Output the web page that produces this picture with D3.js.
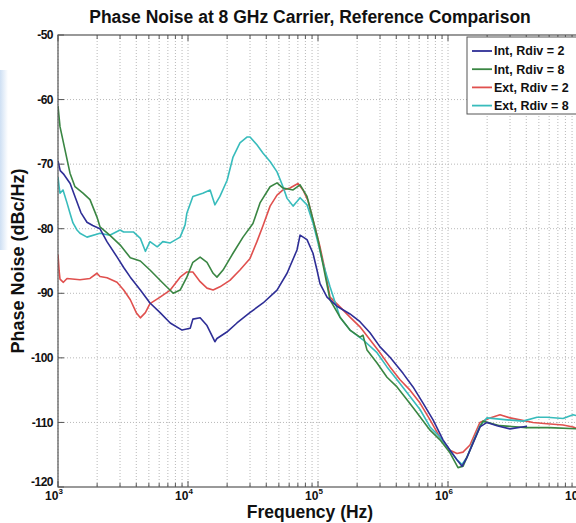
<!DOCTYPE html>
<html>
<head>
<meta charset="utf-8">
<script src="https://cdn.jsdelivr.net/npm/d3@7"></script>
<style>
  html, body { margin: 0; padding: 0; background: #fff; }
  svg { display: block; font-family: "Liberation Sans", Arial, sans-serif; }
</style>
</head>
<body>
<svg id="chart" width="576" height="523"></svg>
<script>
// ---------------- DATA ----------------
const titleText = "Phase Noise at 8 GHz Carrier, Reference Comparison";
const xLabel = "Frequency (Hz)";
const yLabel = "Phase Noise (dBc/Hz)";
const seriesNames = ["Int, Rdiv = 2", "Int, Rdiv = 8", "Ext, Rdiv = 2", "Ext, Rdiv = 8"];
const seriesColors = ["#2e2e96", "#3a8643", "#e0504e", "#38bcbc"];
const xTickExponents = [3, 4, 5, 6, 7];
const yTicks = [-120, -110, -100, -90, -80, -70, -60, -50];

// Int, Rdiv = 2  [frequency Hz, dBc/Hz]
const intR2 = [[1000,-69.5],[1040,-71],[1100,-71.5],[1240,-73],[1350,-75],[1500,-77.5],[1670,-79],[1850,-79.5],[2100,-80],[2380,-82],[2850,-84.4],[3200,-86],[3600,-87.5],[4300,-89.5],[5100,-91.5],[6100,-93],[7300,-94.6],[9000,-95.7],[10400,-95.4],[10900,-94],[12400,-93.8],[14000,-95],[16100,-97.5],[16700,-97],[19900,-96],[23800,-94.6],[29900,-93],[37800,-91.5],[48400,-89.5],[57800,-86.9],[68900,-83.3],[72800,-81],[82300,-81.7],[91500,-83.8],[98200,-86.4],[103600,-88.5],[117300,-90.6],[140000,-92],[176200,-93.2],[210300,-94.4],[251200,-96.1],[300000,-98.3],[358100,-99.9],[450800,-102.4],[538300,-104.5],[642700,-107],[767400,-109.6],[915400,-112.7],[1036000,-114.3],[1173000,-115.8],[1281000,-116.8],[1400000,-115.4],[1557000,-113.2],[1762000,-110.7],[1995000,-110],[2383000,-110.5],[3000000,-111],[4054000,-110.6]];
// Int, Rdiv = 8
const intR8 = [[1000,-61],[1036,-64.2],[1132,-67.8],[1237,-71.4],[1351,-73.5],[1557,-74.5],[1762,-75.5],[1995,-78.2],[2103,-79.7],[2500,-81],[3000,-82.5],[3600,-84.5],[4300,-85],[5100,-86.4],[6400,-88.4],[7700,-90],[8700,-89.5],[9800,-87.5],[10900,-85.2],[12400,-84.4],[14000,-85.2],[15600,-86.9],[16700,-87.5],[18600,-86.4],[22200,-83.8],[26500,-81.3],[31600,-79.2],[35800,-76],[42800,-73.5],[48400,-72.9],[53800,-73.7],[64300,-74],[72800,-73.2],[82300,-75],[91500,-78.6],[100000,-81.7],[109200,-85.5],[123700,-91],[147600,-93.7],[176200,-95.7],[210300,-96.8],[221800,-96.5],[238300,-98.8],[284500,-100.8],[339400,-103],[405400,-104.5],[483900,-106.5],[577700,-108.5],[727800,-111.2],[867500,-112.7],[1036000,-114.7],[1194000,-117],[1304000,-116.8],[1476000,-114.3],[1762000,-110.7],[1858000,-109.8],[2500000,-110.5],[4000000,-110.8],[6000000,-110.8],[10000000,-111]];
// Ext, Rdiv = 2
const extR2 = [[1000,-84],[1020,-86.5],[1036,-87.8],[1100,-88.3],[1173,-87.7],[1476,-87.9],[1762,-87.7],[1995,-86.9],[2103,-87.4],[2383,-87.6],[2845,-88.3],[3200,-89.5],[3600,-91],[4000,-93],[4300,-93.8],[4700,-93],[5100,-91.6],[6100,-90.6],[7300,-89.5],[8700,-87.5],[9800,-86.7],[10900,-86.7],[12400,-88.2],[14000,-89.2],[15600,-89.5],[17600,-89],[21000,-88],[25100,-86.4],[30000,-84.6],[33900,-82],[37800,-79.5],[42800,-76.5],[48400,-74.8],[53800,-74],[60900,-73.7],[70200,-73],[76700,-74],[83700,-75.6],[91500,-78.6],[103600,-82.8],[113200,-86.4],[123700,-90.6],[147600,-92.1],[176200,-93.7],[210300,-95.2],[251200,-97.2],[300000,-99.2],[358100,-101.4],[427500,-103.4],[510400,-105],[609200,-107],[727800,-109.6],[867500,-112.3],[1036000,-114.3],[1173000,-114.8],[1304000,-114.6],[1476000,-113.5],[1762000,-110],[2103000,-109.3],[2512000,-108.8],[3000000,-109.3],[3581000,-109.6],[4508000,-110],[5777000,-110.2],[7674000,-110.4],[9154000,-110.7],[10000000,-111]];
// Ext, Rdiv = 8
const extR8 = [[1000,-72],[1020,-73.5],[1036,-74.5],[1093,-74],[1173,-76],[1237,-77.6],[1304,-79.1],[1400,-80.2],[1476,-80.7],[1671,-81.3],[2103,-80.7],[2500,-81],[3000,-80.2],[3200,-80.5],[3800,-80.5],[4300,-81.5],[4700,-83.5],[5100,-82],[5800,-82.8],[6400,-82],[7300,-82.2],[8700,-81.3],[9500,-79.4],[9800,-77.6],[10900,-75],[13000,-74.5],[14800,-74],[16100,-76.3],[17600,-75],[20000,-72.5],[22200,-68.9],[25100,-66.7],[28400,-65.8],[30000,-65.8],[33900,-67],[37800,-68.3],[42800,-69.6],[48400,-71.2],[53800,-73.5],[57800,-75.3],[64300,-76.5],[68900,-75.8],[72800,-75.2],[82300,-76.3],[91500,-79.1],[100000,-82.2],[109200,-85.3],[123700,-89],[147600,-93.7],[176200,-95.7],[221800,-97.2],[284500,-99.2],[339400,-101.4],[405400,-103.4],[510400,-106],[609200,-108],[727800,-110.7],[867500,-112.3],[1036000,-114.3],[1173000,-115.8],[1281000,-116.5],[1400000,-115.4],[1557000,-113],[1762000,-110.5],[1995000,-109.3],[2845000,-109.6],[3776000,-109.8],[4839000,-109.2],[5777000,-109.2],[7674000,-109.4],[9154000,-108.8],[10000000,-109]];

const allSeries = [intR2, intR8, extR2, extR8];

// ---------------- LAYOUT ----------------
const svg = d3.select("#chart");
const L = 58, R = 578, T = 35, B = 487;
const x = d3.scaleLog().domain([1e3, 1e7]).range([L, R]);
const y = d3.scaleLinear().domain([-120, -50]).range([B, T]);

// faint left-edge tint seen in the reference image
const grad = svg.append("defs").append("linearGradient").attr("id", "tint")
  .attr("x1", 0).attr("x2", 1).attr("y1", 0).attr("y2", 0);
grad.append("stop").attr("offset", "0%").attr("stop-color", "#c9dcf2").attr("stop-opacity", 0.9);
grad.append("stop").attr("offset", "100%").attr("stop-color", "#c9dcf2").attr("stop-opacity", 0);
svg.append("rect").attr("x", 0).attr("y", 70).attr("width", 8).attr("height", 180).attr("fill", "url(#tint)");

// gridlines
const xAll = x.ticks();
const grid = svg.append("g");
grid.selectAll("line.vx").data(xAll).enter().append("line")
  .attr("x1", d => x(d)).attr("x2", d => x(d)).attr("y1", T).attr("y2", B)
  .attr("stroke", "#b8b8b8").attr("stroke-width", 1).attr("stroke-dasharray", "1,2");
grid.selectAll("line.hy").data(yTicks.slice(1, -1)).enter().append("line")
  .attr("x1", L).attr("x2", R).attr("y1", d => y(d)).attr("y2", d => y(d))
  .attr("stroke", "#b8b8b8").attr("stroke-width", 1).attr("stroke-dasharray", "1,2");

// ticks (inward) on bottom and top
const isMajor = d => Math.abs(Math.log10(d) - Math.round(Math.log10(d))) < 1e-9;
const tk = svg.append("g").attr("stroke", "#555").attr("stroke-width", 1);
xAll.forEach(d => {
  const len = isMajor(d) ? 6 : 4;
  tk.append("line").attr("x1", x(d)).attr("x2", x(d)).attr("y1", B).attr("y2", B - len);
  tk.append("line").attr("x1", x(d)).attr("x2", x(d)).attr("y1", T).attr("y2", T + len);
});
yTicks.forEach(d => {
  tk.append("line").attr("x1", L).attr("x2", L + 6).attr("y1", y(d)).attr("y2", y(d));
});

// series lines
const line = d3.line().x(d => x(d[0])).y(d => y(d[1])).curve(d3.curveLinear);
const plot = svg.append("g");
plot.append("defs").append("clipPath").attr("id", "clip")
  .append("rect").attr("x", L).attr("y", T).attr("width", R - L).attr("height", B - T);
const order = [2, 3, 1, 0];
order.forEach(i => {
  plot.append("path").datum(allSeries[i])
    .attr("clip-path", "url(#clip)")
    .attr("fill", "none").attr("stroke", seriesColors[i])
    .attr("stroke-width", 1.6).attr("stroke-linejoin", "round")
    .attr("d", line);
});

// axes box
svg.append("rect").attr("x", L).attr("y", T).attr("width", R - L).attr("height", B - T)
  .attr("fill", "none").attr("stroke", "#555").attr("stroke-width", 1.2);

// y tick labels
svg.append("g").selectAll("text").data(yTicks).enter().append("text")
  .attr("x", L - 5).attr("y", d => y(d) - (d === -120 ? 5 : 0)).attr("dy", "0.35em")
  .attr("text-anchor", "end").attr("font-size", 12).attr("font-weight", "bold")
  .attr("fill", "#111").attr("letter-spacing", "-0.5")
  .text(d => d);

// x tick labels 10^n
const xl = svg.append("g");
xTickExponents.forEach(e => {
  const t = xl.append("text").attr("x", x(Math.pow(10, e)) - 4).attr("y", B + 13)
    .attr("text-anchor", "middle").attr("font-weight", "bold").attr("fill", "#111");
  t.append("tspan").attr("font-size", 12).text("10");
  t.append("tspan").attr("font-size", 8).attr("dy", -6).text(e);
});

// title
svg.append("text").attr("x", 310).attr("y", 23).attr("text-anchor", "middle")
  .attr("font-size", 17.5).attr("font-weight", "bold").attr("fill", "#111").text(titleText);
// axis labels
svg.append("text").attr("x", 310).attr("y", 518).attr("text-anchor", "middle")
  .attr("font-size", 17.5).attr("font-weight", "bold").attr("fill", "#111").text(xLabel);
svg.append("text").attr("transform", `translate(24,${(T + B) / 2}) rotate(-90)`)
  .attr("text-anchor", "middle").attr("font-size", 18).attr("font-weight", "bold")
  .attr("fill", "#111").text(yLabel);

// legend
const lg = svg.append("g");
lg.append("rect").attr("x", 467).attr("y", 37).attr("width", 120).attr("height", 77)
  .attr("fill", "#fff").attr("stroke", "#555").attr("stroke-width", 1);
seriesNames.forEach((n, i) => {
  const yy = 51 + i * 18.2;
  lg.append("line").attr("x1", 472).attr("x2", 492).attr("y1", yy).attr("y2", yy)
    .attr("stroke", seriesColors[i]).attr("stroke-width", 1.8);
  lg.append("text").attr("x", 494).attr("y", yy).attr("dy", "0.35em")
    .attr("font-size", 12.5).attr("font-weight", "bold").attr("fill", "#111").text(n);
});
</script>
</body>
</html>
